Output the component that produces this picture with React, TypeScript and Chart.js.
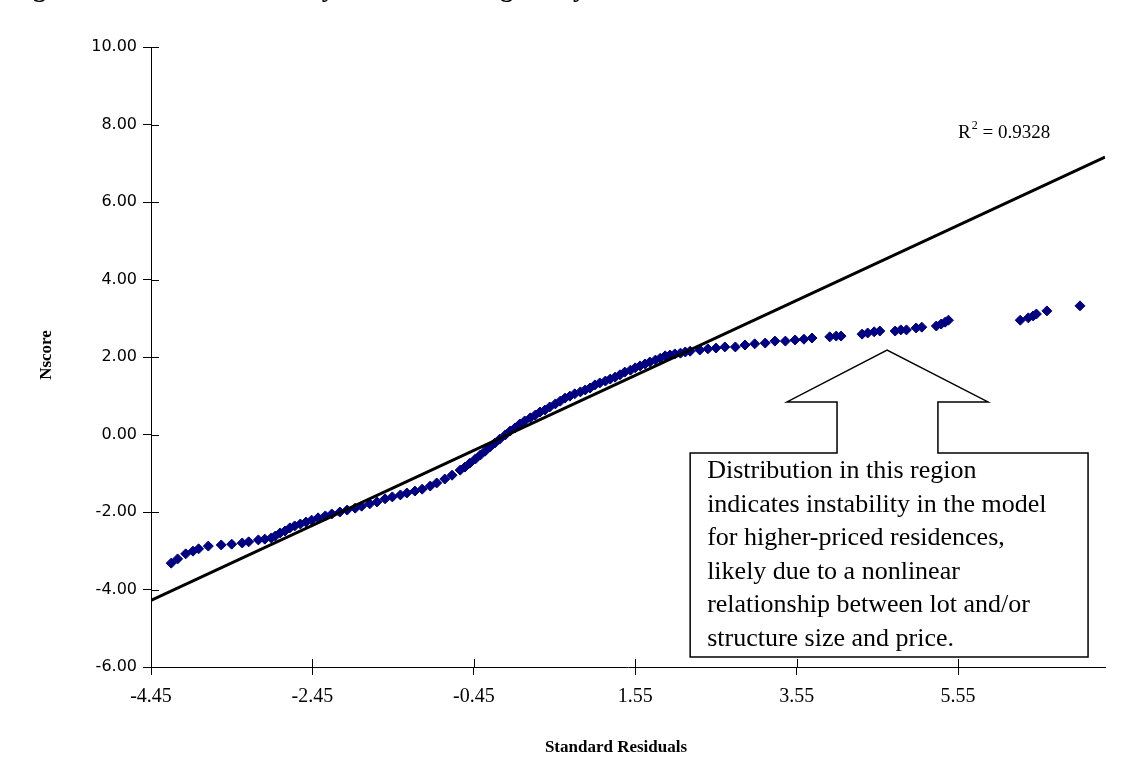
import React, { useEffect, useRef } from "react";
import { Chart, registerables } from "chart.js";

Chart.register(...registerables);

// ---- data ----
const residuals: number[] = [
  -4.2, -4.12, -4.02, -3.93, -3.86, -3.74, -3.58, -3.45, -3.32, -3.24, -3.12, -3.04,
  -2.96, -2.91, -2.85, -2.79, -2.73, -2.67, -2.6, -2.53, -2.46, -2.38,
  -2.29, -2.21, -2.11, -2.02, -1.92, -1.84, -1.74, -1.65, -1.55, -1.46,
  -1.36, -1.28, -1.18, -1.09, -0.99, -0.91, -0.81, -0.72, -0.62, -0.56,
  -0.5, -0.43, -0.37, -0.31, -0.25, -0.19, -0.13, -0.06, 0.0, 0.06,
  0.12, 0.18, 0.25, 0.31, 0.37, 0.43, 0.49, 0.56, 0.62, 0.68,
  0.74, 0.8, 0.87, 0.93, 0.99, 1.05, 1.11, 1.18, 1.24, 1.3,
  1.36, 1.42, 1.49, 1.55, 1.61, 1.67, 1.73, 1.8, 1.86, 1.92,
  1.98, 2.04, 2.11, 2.17, 2.23,
  2.35, 2.45, 2.55, 2.66, 2.79, 2.91, 3.03, 3.16, 3.28, 3.41,
  3.53, 3.64, 3.74, 3.96, 4.04, 4.1, 4.36, 4.43, 4.51, 4.58,
  4.77, 4.84, 4.91, 5.03, 5.1, 5.28, 5.34, 5.39, 5.43, 6.32,
  6.42, 6.48, 6.52, 6.65, 7.06,
];

const nscores: number[] = [
  -3.32, -3.21, -3.08, -3.01, -2.95, -2.88, -2.85, -2.83, -2.8, -2.77, -2.72, -2.7,
  -2.67, -2.62, -2.54, -2.49, -2.41, -2.36, -2.31, -2.26, -2.21, -2.15,
  -2.1, -2.05, -2.0, -1.95, -1.9, -1.85, -1.79, -1.74, -1.66, -1.61,
  -1.56, -1.51, -1.46, -1.41, -1.33, -1.25, -1.15, -1.05, -0.92, -0.84,
  -0.74, -0.63, -0.53, -0.43, -0.32, -0.22, -0.12, -0.01, 0.09, 0.17,
  0.27, 0.35, 0.43, 0.5, 0.58, 0.63, 0.71, 0.79, 0.86, 0.94,
  0.99, 1.05, 1.1, 1.15, 1.2, 1.28, 1.33, 1.38, 1.43, 1.48,
  1.54, 1.61, 1.66, 1.72, 1.77, 1.82, 1.87, 1.92, 1.97, 2.03,
  2.05, 2.08, 2.1, 2.13, 2.15,
  2.18, 2.21, 2.23, 2.26, 2.26, 2.31, 2.34, 2.36, 2.41, 2.41,
  2.44, 2.46, 2.49, 2.52, 2.54, 2.54, 2.59, 2.62, 2.65, 2.67,
  2.67, 2.7, 2.7, 2.75, 2.77, 2.8, 2.85, 2.9, 2.95, 2.95,
  3.01, 3.06, 3.11, 3.19, 3.32,
];

// linear trendline end points (x, y)
const trendX: number[] = [-4.45, 7.37];
const trendY: number[] = [-4.28, 7.16];
const rSquaredText = "0.9328";

const xTickValues: number[] = [-4.45, -2.45, -0.45, 1.55, 3.55, 5.55];
const xMin = -4.45;
const xMax = 7.37;
const yMin = -6;
const yMax = 10;
const yStep = 2;

const titleText = "Figure 5: Normal Probability Plot of Housing Analysis";
const xTitle = "Standard Residuals";
const yTitle = "Nscore";

const annotationLines: string[] = [
  "Distribution in this region",
  "indicates instability in the model",
  "for higher-priced residences,",
  "likely due to a nonlinear",
  "relationship between lot and/or",
  "structure size and price.",
];

// callout shape anchored in data coordinates
const callout = {
  boxLeft: 2.23,
  boxRight: 7.16,
  boxTop: -0.48,
  boxBottom: -5.74,
  shaftLeft: 4.05,
  shaftRight: 5.3,
  headBase: 0.84,
  headLeft: 3.43,
  headRight: 5.92,
  tipX: 4.67,
  tipY: 2.18,
};
const rLabelX = 5.55;
const rLabelY = 7.78;

const SERIF = "'Liberation Serif', 'Times New Roman', serif";

const decorPlugin = {
  id: "decor",
  afterDraw(chart: any) {
    const { ctx, chartArea, scales } = chart;
    const xs = scales.x;
    const ys = scales.y;
    ctx.save();

    // inward halves of the tick marks
    ctx.strokeStyle = "#000";
    ctx.lineWidth = 1;
    ctx.beginPath();
    xs.ticks.forEach((t: any) => {
      const px = Math.round(xs.getPixelForValue(t.value)) + 0.5;
      ctx.moveTo(px, chartArea.bottom);
      ctx.lineTo(px, chartArea.bottom - 8);
    });
    ys.ticks.forEach((t: any) => {
      const py = Math.round(ys.getPixelForValue(t.value)) + 0.5;
      ctx.moveTo(chartArea.left, py);
      ctx.lineTo(chartArea.left + 8, py);
    });
    ctx.stroke();

    // callout
    const X = (v: number) => xs.getPixelForValue(v);
    const Y = (v: number) => ys.getPixelForValue(v);
    const c = callout;
    ctx.beginPath();
    ctx.moveTo(X(c.boxLeft), Y(c.boxTop));
    ctx.lineTo(X(c.shaftLeft), Y(c.boxTop));
    ctx.lineTo(X(c.shaftLeft), Y(c.headBase));
    ctx.lineTo(X(c.headLeft), Y(c.headBase));
    ctx.lineTo(X(c.tipX), Y(c.tipY));
    ctx.lineTo(X(c.headRight), Y(c.headBase));
    ctx.lineTo(X(c.shaftRight), Y(c.headBase));
    ctx.lineTo(X(c.shaftRight), Y(c.boxTop));
    ctx.lineTo(X(c.boxRight), Y(c.boxTop));
    ctx.lineTo(X(c.boxRight), Y(c.boxBottom));
    ctx.lineTo(X(c.boxLeft), Y(c.boxBottom));
    ctx.closePath();
    ctx.fillStyle = "#fff";
    ctx.fill();
    ctx.lineWidth = 1.5;
    ctx.strokeStyle = "#000";
    ctx.stroke();

    ctx.fillStyle = "#000";
    ctx.font = `26px ${SERIF}`;
    ctx.textAlign = "left";
    ctx.textBaseline = "middle";
    const tx = X(c.boxLeft) + 17;
    const ty0 = Y(c.boxTop) + 18;
    annotationLines.forEach((line, i) => {
      ctx.fillText(line, tx, ty0 + i * 33.6);
    });

    // R squared label
    const rx = X(rLabelX);
    const ry = Y(rLabelY);
    ctx.font = `19px ${SERIF}`;
    ctx.fillText("R", rx, ry);
    const rw = ctx.measureText("R").width;
    ctx.font = `12px ${SERIF}`;
    ctx.fillText("2", rx + rw + 1, ry - 7);
    const sw = ctx.measureText("2").width;
    ctx.font = `19px ${SERIF}`;
    ctx.fillText(" = " + rSquaredText, rx + rw + sw + 1, ry);

    // axis titles
    ctx.font = `bold 17px ${SERIF}`;
    ctx.textAlign = "center";
    ctx.fillText(xTitle, (chartArea.left + chartArea.right) / 2 - 12, 748);
    ctx.save();
    ctx.translate(47, (chartArea.top + chartArea.bottom) / 2 - 2);
    ctx.rotate(-Math.PI / 2);
    ctx.fillText(yTitle, 0, 0);
    ctx.restore();

    // clipped figure title at the very top (only descenders show)
    ctx.font = `bold 26px ${SERIF}`;
    ctx.textAlign = "left";
    ctx.textBaseline = "alphabetic";
    ctx.fillText(titleText, 10, -3);

    ctx.restore();
  },
};

export default function App() {
  const canvasRef = useRef<HTMLCanvasElement | null>(null);

  useEffect(() => {
    const canvas = canvasRef.current;
    if (!canvas) return;
    const points = residuals.map((x, i) => ({ x, y: nscores[i] }));
    const trend = trendX.map((x, i) => ({ x, y: trendY[i] }));

    const chart = new Chart(canvas, {
      type: "scatter",
      data: {
        datasets: [
          {
            label: "Linear (Nscore)",
            data: trend,
            showLine: true,
            borderColor: "#000",
            borderWidth: 3,
            pointRadius: 0,
            fill: false,
          } as any,
          {
            label: "Nscore",
            data: points,
            pointStyle: "rectRot",
            pointRadius: 5,
            pointBackgroundColor: "#000080",
            pointBorderColor: "#000080",
            pointBorderWidth: 1,
          } as any,
        ],
      },
      options: {
        responsive: false,
        animation: false,
        devicePixelRatio: 1,
        layout: { padding: { left: 0, right: 38, top: 47, bottom: 0 } },
        plugins: {
          legend: { display: false },
          tooltip: { enabled: false },
          title: { display: false },
        },
        scales: {
          x: {
            type: "linear",
            min: xMin,
            max: xMax,
            afterFit: (s: any) => {
              s.height = 117;
            },
            afterBuildTicks: (s: any) => {
              s.ticks = xTickValues.map((v) => ({ value: v }));
            },
            grid: {
              drawOnChartArea: false,
              color: "#000",
              tickLength: 8,
              lineWidth: 1,
            },
            border: { color: "#000", width: 1 },
            ticks: {
              color: "#000",
              font: { family: SERIF, size: 20 },
              padding: 10,
              maxRotation: 0,
              autoSkip: false,
              callback: (v: any) => Number(v).toFixed(2),
            },
          },
          y: {
            type: "linear",
            min: yMin,
            max: yMax,
            afterFit: (s: any) => {
              s.width = 151;
            },
            grid: {
              drawOnChartArea: false,
              color: "#000",
              tickLength: 8,
              lineWidth: 1,
            },
            border: { color: "#000", width: 1 },
            ticks: {
              stepSize: yStep,
              color: "#000",
              font: { family: "'DejaVu Sans', sans-serif", size: 16 },
              padding: 6,
              callback: (v: any) => Number(v).toFixed(2),
            },
          },
        },
      },
      plugins: [decorPlugin],
    });
    return () => chart.destroy();
  }, []);

  return (
    <div
      style={{
        position: "fixed",
        left: 0,
        top: 0,
        width: 1143,
        height: 784,
        background: "#fff",
      }}
    >
      <canvas ref={canvasRef} width={1143} height={784} style={{ display: "block" }} />
    </div>
  );
}
